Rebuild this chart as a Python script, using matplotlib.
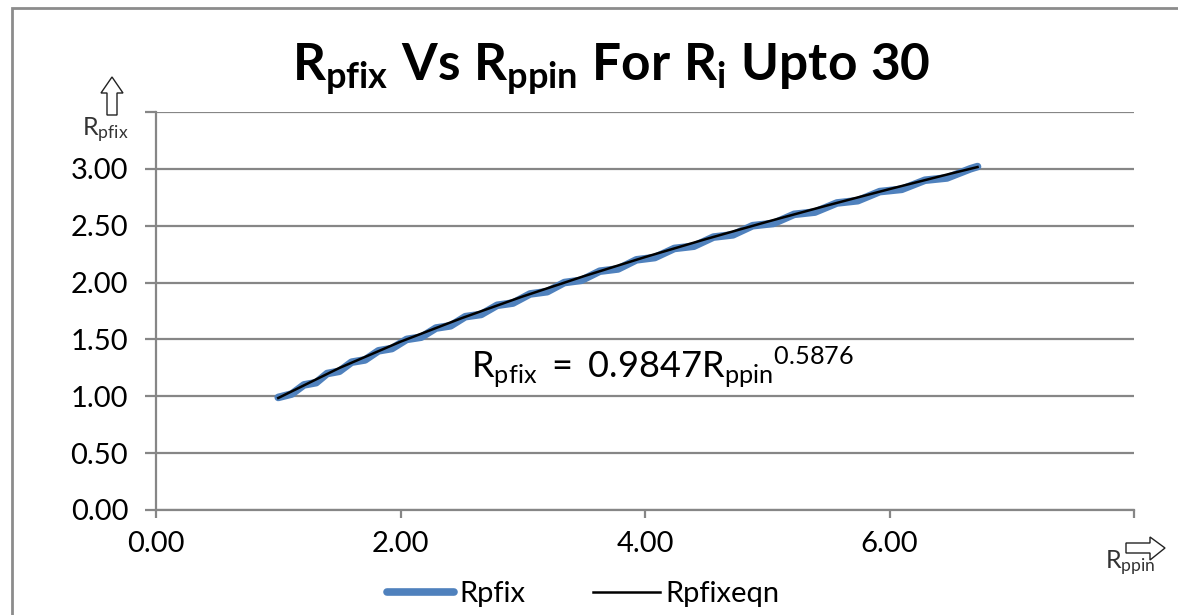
import matplotlib
matplotlib.use("Agg")
import matplotlib.pyplot as plt
from matplotlib.patches import Polygon, Rectangle

plt.rcParams['font.family'] = ['Lato', 'DejaVu Sans']
plt.rcParams['mathtext.fontset'] = 'custom'
plt.rcParams['mathtext.rm'] = 'Lato'
plt.rcParams['mathtext.it'] = 'Lato:italic'
plt.rcParams['mathtext.bf'] = 'Lato:bold'

# Rpfix (stepped data)
rppin = [1.00, 1.11, 1.21, 1.31, 1.40, 1.50, 1.60, 1.71, 1.82, 1.93, 2.05, 2.17,
         2.29, 2.41, 2.53, 2.66, 2.79, 2.92, 3.06, 3.20, 3.34, 3.48, 3.63, 3.78,
         3.93, 4.08, 4.24, 4.40, 4.56, 4.72, 4.88, 5.05, 5.22, 5.39, 5.57, 5.74,
         5.92, 6.10, 6.29, 6.47, 6.66, 6.72]
rpfix = [0.99, 1.02, 1.10, 1.12, 1.20, 1.22, 1.30, 1.32, 1.40, 1.42, 1.50, 1.52,
         1.60, 1.62, 1.70, 1.72, 1.80, 1.82, 1.90, 1.92, 2.00, 2.02, 2.10, 2.12,
         2.20, 2.22, 2.30, 2.32, 2.40, 2.42, 2.50, 2.52, 2.60, 2.62, 2.70, 2.72,
         2.80, 2.82, 2.90, 2.92, 3.00, 3.02]

# Rpfixeqn (fitted curve)
eqn_x = [1.0, 1.5, 2.0, 2.5, 3.0, 3.5, 4.0, 4.5, 5.0, 5.5, 6.0, 6.5, 6.72]
eqn_y = [0.985, 1.249, 1.480, 1.687, 1.878, 2.056, 2.224, 2.383, 2.535, 2.681,
         2.822, 2.958, 3.016]

x_ticks = [0, 2, 4, 6, 8]
x_labels = ['0.00', '2.00', '4.00', '6.00', '']
y_ticks = [0.0, 0.5, 1.0, 1.5, 2.0, 2.5, 3.0, 3.5]
y_labels = ['0.00', '0.50', '1.00', '1.50', '2.00', '2.50', '3.00', '']

W, H = 1178, 615
fig = plt.figure(figsize=(W / 100, H / 100), dpi=100)
ax = fig.add_axes([156 / W, 1 - 510 / H, (1134 - 156) / W, (510 - 112) / H])

grey = '#868686'
ax.plot(rppin, rpfix, color='#4F81BD', lw=5.5, solid_capstyle='round',
        solid_joinstyle='round', label='Rpfix', zorder=3)
ax.plot(eqn_x, eqn_y, color='black', lw=1.8, label='Rpfixeqn', zorder=4)

ax.set_xlim(0, 8)
ax.set_ylim(0, 3.5)
ax.set_xticks(x_ticks)
ax.set_xticklabels(x_labels)
ax.set_yticks(y_ticks)
ax.set_yticklabels(y_labels)
ax.grid(axis='y', color=grey, lw=1.6)
ax.set_axisbelow(True)
for s in ['top', 'right']:
    ax.spines[s].set_visible(False)
for s in ['left', 'bottom']:
    ax.spines[s].set_color(grey)
    ax.spines[s].set_linewidth(1.6)
ax.tick_params(axis='x', length=6, width=1.6, color=grey, labelsize=21, pad=9)
ax.tick_params(axis='y', length=8, width=1.6, color=grey, labelsize=21, pad=12)

ax.text(2.58, 1.25, r'$\mathrm{R_{pfix}\ =\ 0.9847R_{ppin}{}^{0.5876}}$',
        fontsize=26, va='center', ha='left')

fig.text(611 / W, 1 - 80 / H,
         r'$\mathbf{R_{pfix}\ Vs\ R_{ppin}\ For\ R_i\ Upto\ 30}$',
         fontsize=37, ha='center', va='baseline')

# axis labels with hollow arrows
fig.text(82 / W, 1 - 136 / H, r'$\mathrm{R_{pfix}}$', fontsize=18,
         ha='left', va='baseline', color='#333333')
fig.text(1105 / W, 1 - 569 / H, r'$\mathrm{R_{ppin}}$', fontsize=18,
         ha='left', va='baseline', color='#333333')
up = [(107, 115), (117, 115), (117, 93), (123, 93), (112, 77), (101, 93), (107, 93)]
right = [(1126, 543), (1150, 543), (1150, 537), (1165, 548), (1150, 560),
         (1150, 553), (1126, 553)]
for pts in (up, right):
    fig.patches.append(Polygon([(x / W, 1 - y / H) for x, y in pts], closed=True,
                               transform=fig.transFigure, facecolor='white',
                               edgecolor='#222222', lw=1.0))

# chart border
fig.patches.append(Rectangle((12 / W, -0.05), 2.0, 1 - 8 / H + 0.05,
                             transform=fig.transFigure, fill=False,
                             edgecolor='#8c8c8c', lw=2))

leg = fig.legend(loc='center', bbox_to_anchor=(0.495, 1 - 594 / H), ncol=2,
                 frameon=False, fontsize=21, handlelength=2.3,
                 handletextpad=0.2, columnspacing=2.3)

fig.savefig('out.png', dpi=100)
